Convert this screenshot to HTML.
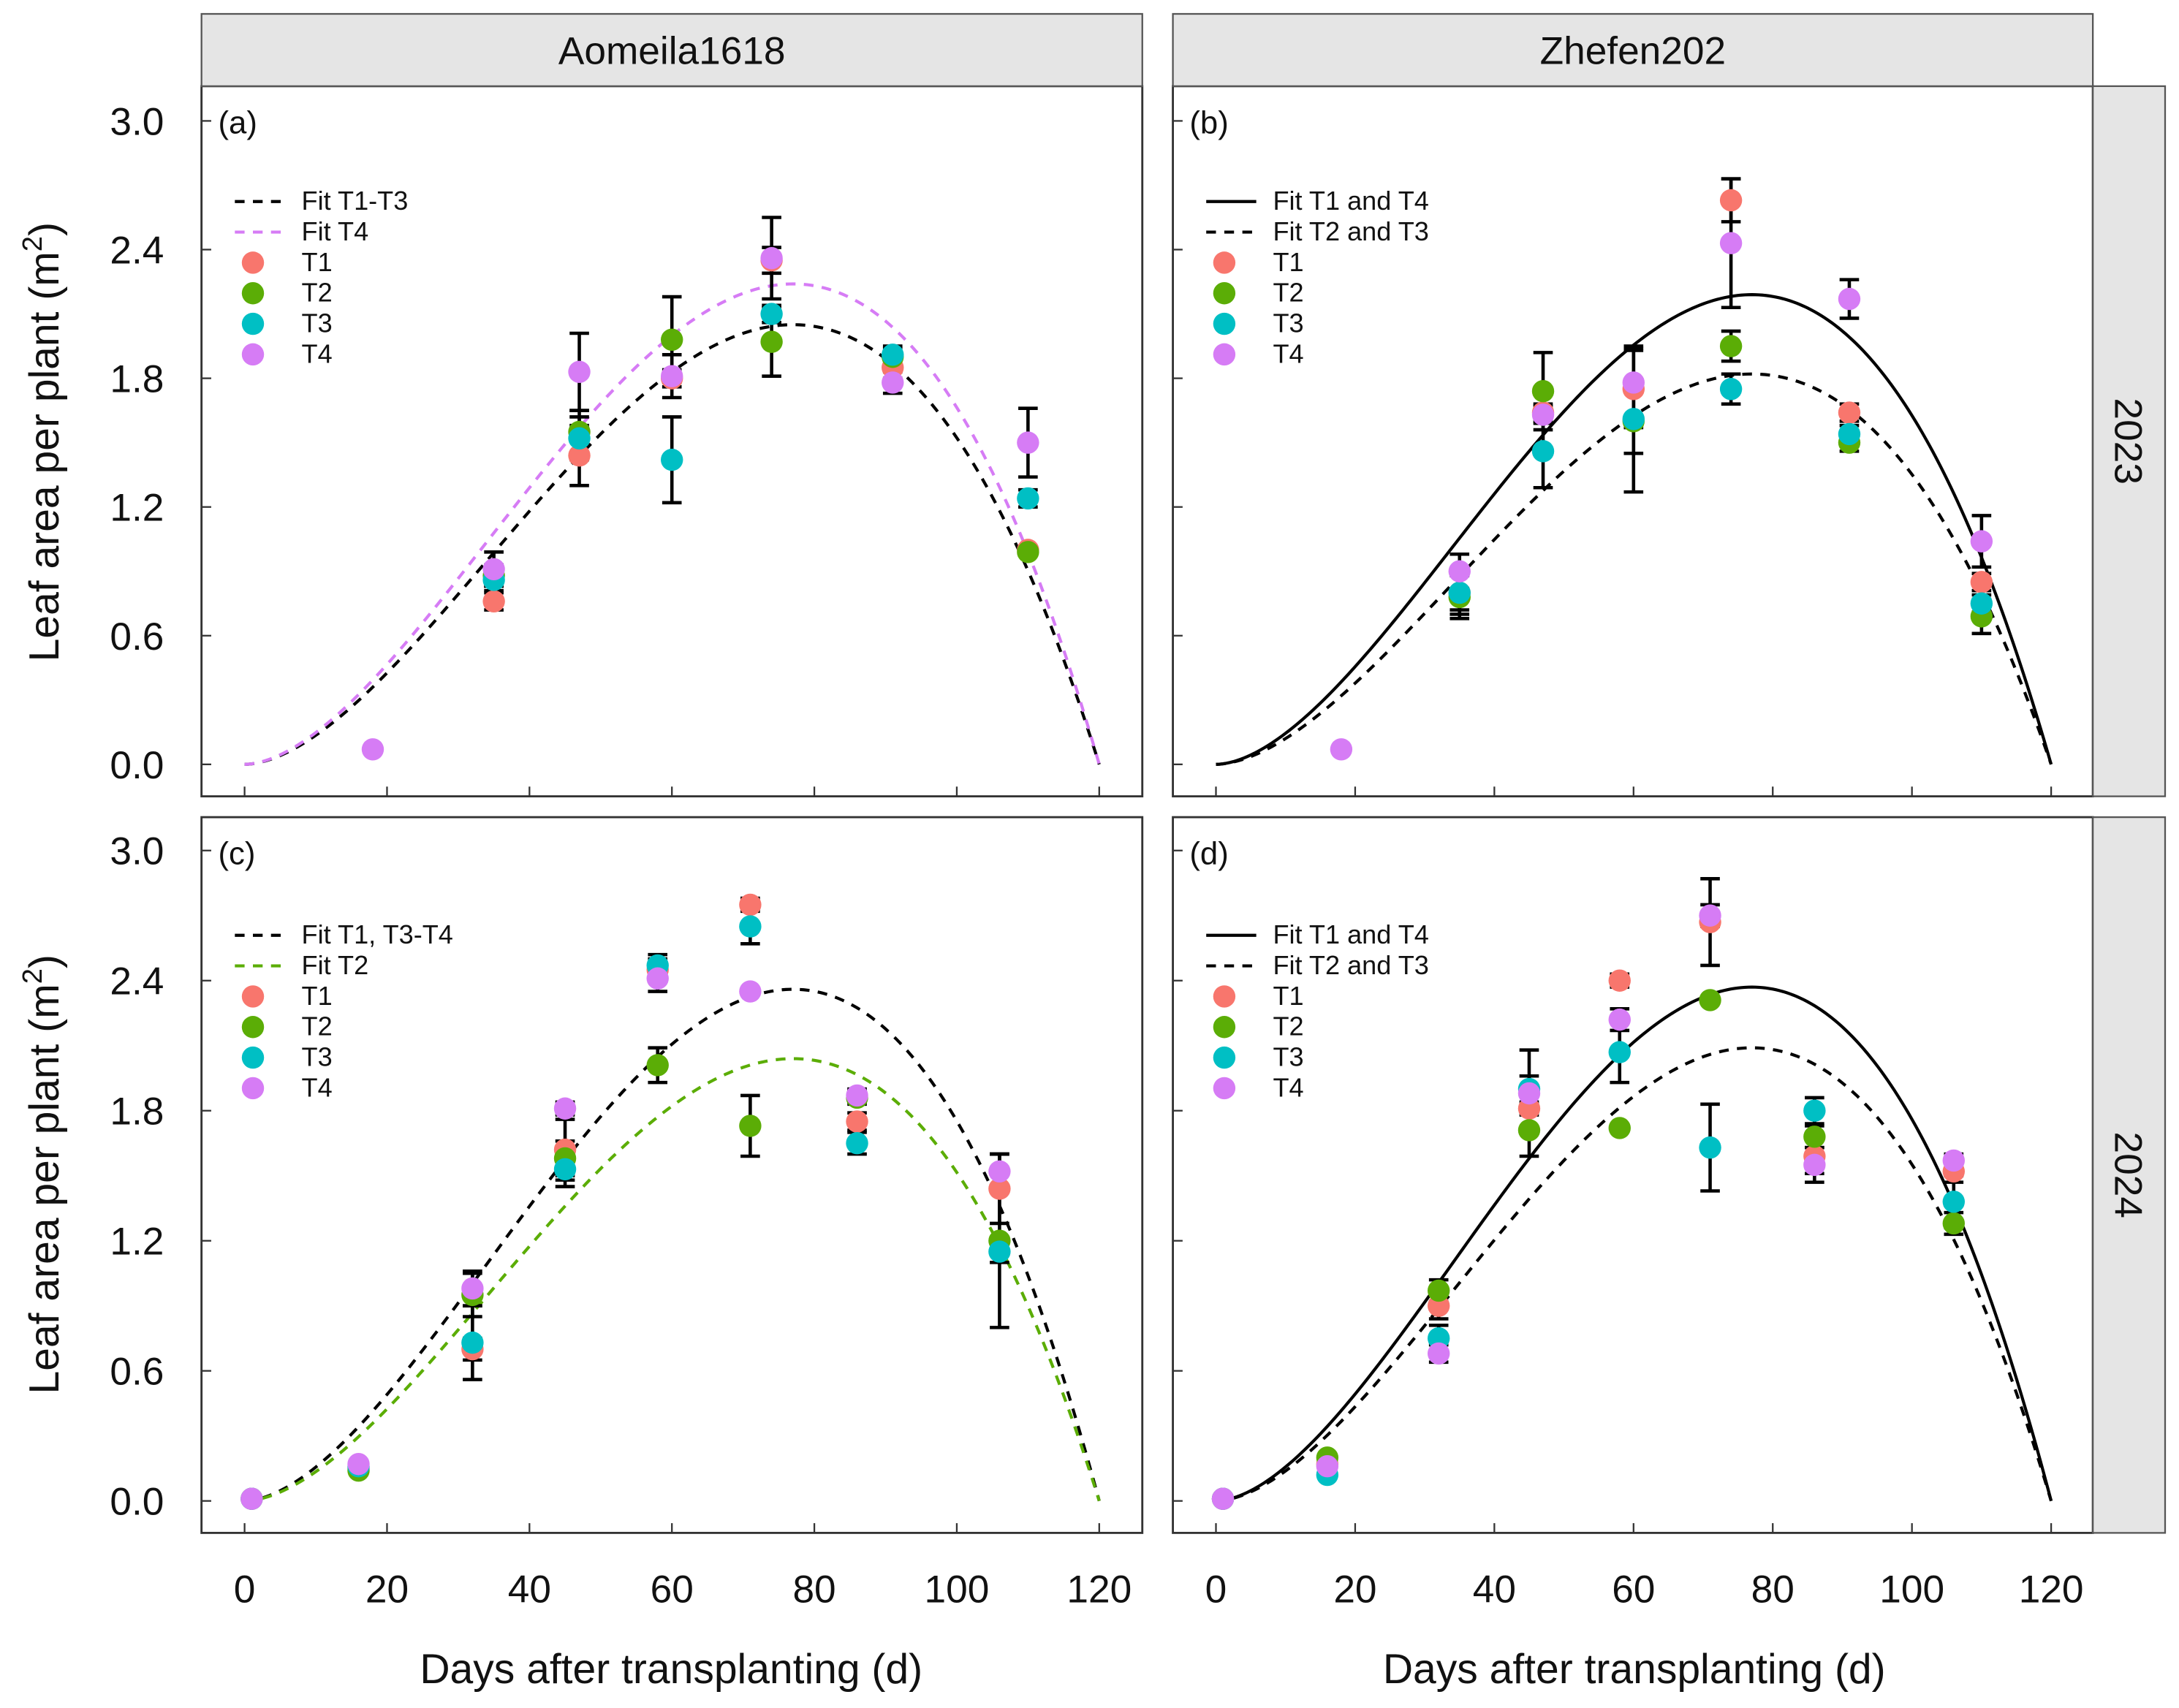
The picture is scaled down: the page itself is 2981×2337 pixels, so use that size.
<!DOCTYPE html>
<html><head><meta charset="utf-8"><style>
html,body{margin:0;padding:0;background:#fff;}
svg{display:block;font-family:"Liberation Sans",Arial,sans-serif;}
</style></head><body>
<svg id="fig" width="2981" height="2337" viewBox="0 0 1568 1229" preserveAspectRatio="none" xmlns="http://www.w3.org/2000/svg">
<rect x="0" y="0" width="1568" height="1229" fill="#fff"/>
<g id="root"></g>
</svg>
<script>
// ---- data ----
const xTicks = [0,20,40,60,80,100,120];
const yTicks = [0.0,0.6,1.2,1.8,2.4,3.0];
const treatments = ["T1","T2","T3","T4"];
const colors = ["#F8766D","#5BAD06","#00BFC4","#D67CF5"];

const daysA = [18,35,47,60,74,91,110];
const aT1 = [null,0.76,1.44,1.80,2.35,1.85,1.00];
const aT2 = [null,0.88,1.55,1.98,1.97,1.90,0.99];
const aT3 = [null,0.86,1.52,1.42,2.10,1.91,1.24];
const aT4 = [0.07,0.91,1.83,1.81,2.36,1.78,1.50];
const aE1 = [0,0.04,0.14,0.04,0.06,0.05,0.02];
const aE2 = [0,0.05,0.10,0.20,0.16,0.04,0.02];
const aE3 = [0,0.05,0.10,0.20,0.04,0.04,0.04];
const aE4 = [0,0.08,0.18,0.10,0.19,0.05,0.16];

const daysB = [18,35,47,60,74,91,110];
const bT1 = [null,0.80,1.64,1.75,2.63,1.64,0.85];
const bT2 = [null,0.78,1.74,1.60,1.95,1.50,0.69];
const bT3 = [null,0.80,1.46,1.61,1.75,1.54,0.75];
const bT4 = [0.07,0.90,1.63,1.78,2.43,2.17,1.04];
const bE1 = [0,0.08,0.04,0.18,0.10,0.04,0.04];
const bE2 = [0,0.10,0.18,0.15,0.07,0.04,0.08];
const bE3 = [0,0.10,0.17,0.34,0.07,0.04,0.04];
const bE4 = [0,0.08,0.04,0.16,0.30,0.09,0.12];

const daysC = [1,16,32,45,58,71,86,106];
const cT1 = [0.01,0.15,0.70,1.62,2.45,2.75,1.75,1.44];
const cT2 = [0.01,0.14,0.95,1.58,2.01,1.73,1.86,1.20];
const cT3 = [0.01,0.16,0.73,1.53,2.47,2.65,1.65,1.15];
const cT4 = [0.01,0.17,0.98,1.81,2.41,2.35,1.87,1.52];
const cE1 = [0,0.02,0.05,0.14,0.05,0.03,0.04,0.16];
const cE2 = [0,0.02,0.10,0.08,0.08,0.14,0.03,0.40];
const cE3 = [0,0.02,0.17,0.08,0.05,0.08,0.05,0.05];
const cE4 = [0,0.02,0.08,0.03,0.06,0.02,0.03,0.08];

const daysD = [1,16,32,45,58,71,86,106];
const dT1 = [0.01,0.17,0.90,1.81,2.40,2.67,1.59,1.52];
const dT2 = [0.01,0.20,0.97,1.71,1.72,2.31,1.68,1.28];
const dT3 = [0.01,0.12,0.75,1.90,2.07,1.63,1.80,1.38];
const dT4 = [0.01,0.16,0.68,1.88,2.22,2.70,1.55,1.57];
const dE1 = [0,0.02,0.06,0.03,0.03,0.20,0.08,0.05];
const dE2 = [0,0.02,0.05,0.12,0.02,0.02,0.05,0.05];
const dE3 = [0,0.02,0.06,0.18,0.14,0.20,0.06,0.12];
const dE4 = [0,0.02,0.04,0.08,0.05,0.05,0.08,0.03];

// fit parameters (ymax) for beta curves, te=120, tm=77
const fitA = [2.05,2.24];
const fitB = [2.19,1.82];
const fitC = [2.36,2.04];
const fitD = [2.37,2.09];

// ---- drawing ----
const NS="http://www.w3.org/2000/svg";
const root=document.getElementById('root');
function el(tag,attrs,parent,text){const e=document.createElementNS(NS,tag);for(const k in attrs)e.setAttribute(k,attrs[k]);if(text!==undefined)e.textContent=text;(parent||root).appendChild(e);return e;}
function beta(t,ymax){const te=120,tm=77;if(t<=0)return 0;if(t>=te)return 0;return ymax*((te-t)/(te-tm))*Math.pow(t/tm,tm/(te-tm));}

const panels=[
 {id:"a",L:145,R:822,T:62,B:573,x0:176,x120:791,y0:550,y3:87,days:daysA,vals:[aT1,aT2,aT3,aT4],errs:[aE1,aE2,aE3,aE4],fits:fitA,
  fitStyles:[{c:"#000",d:"7,6"},{c:"#D67CF5",d:"7,6"}],fitNames:["Fit T1-T3","Fit T4"],legY:145,xlabels:false},
 {id:"b",L:844,R:1506,T:62,B:573,x0:875,x120:1476,y0:550,y3:87,days:daysB,vals:[bT1,bT2,bT3,bT4],errs:[bE1,bE2,bE3,bE4],fits:fitB,
  fitStyles:[{c:"#000",d:""},{c:"#000",d:"7,6"}],fitNames:["Fit T1 and T4","Fit T2 and T3"],legY:145,xlabels:false},
 {id:"c",L:145,R:822,T:588,B:1103,x0:176,x120:791,y0:1080,y3:612,days:daysC,vals:[cT1,cT2,cT3,cT4],errs:[cE1,cE2,cE3,cE4],fits:fitC,
  fitStyles:[{c:"#000",d:"7,6"},{c:"#5BAD06",d:"7,6"}],fitNames:["Fit T1, T3-T4","Fit T2"],legY:673,xlabels:true},
 {id:"d",L:844,R:1506,T:588,B:1103,x0:875,x120:1476,y0:1080,y3:612,days:daysD,vals:[dT1,dT2,dT3,dT4],errs:[dE1,dE2,dE3,dE4],fits:fitD,
  fitStyles:[{c:"#000",d:""},{c:"#000",d:"7,6"}],fitNames:["Fit T1 and T4","Fit T2 and T3"],legY:673,xlabels:true}
];

panels.forEach(p=>{
  const sx=t=>p.x0+(p.x120-p.x0)*t/120;
  const sy=v=>p.y0-(p.y0-p.y3)*v/3;
  const g=el('g',{});
  
  
  const frame=el('rect',{x:p.L,y:p.T,width:p.R-p.L,height:p.B-p.T,fill:"#fff",stroke:"#333","stroke-width":1.5},g);
  
  
  xTicks.forEach(t=>{
    const tk=el('line',{x1:sx(t),x2:sx(t),y1:p.B,y2:p.B-7,stroke:"#333","stroke-width":1.2},g);
    
    
    if(p.xlabels){
      const lb=el('text',{x:sx(t),y:p.B+50,"text-anchor":"middle","font-size":28,fill:"#111"},g,String(t));
      
      
    }
  });
  yTicks.forEach(v=>{
    const tk=el('line',{x1:p.L,x2:p.L+7,y1:sy(v),y2:sy(v),stroke:"#333","stroke-width":1.2},g);
    
    
    if(p.id==="a"||p.id==="c"){
      const lb=el('text',{x:118,y:sy(v)+10,"text-anchor":"end","font-size":28,fill:"#111"},g,v.toFixed(1));
      
      
    }
  });
  const pl=el('text',{x:p.L+12,y:p.T+34,"font-size":23,fill:"#111"},g,"("+p.id+")");
  
  
  p.fits.forEach((ym,i)=>{
    let d="";
    for(let t=0;t<=120;t+=0.5){d+=(t===0?"M":"L")+sx(t).toFixed(2)+","+sy(beta(t,ym)).toFixed(2);}
    const path=el('path',{d:d,fill:"none",stroke:p.fitStyles[i].c,"stroke-width":2.2,"stroke-dasharray":p.fitStyles[i].d},g);
    
    
  });
  p.vals.forEach((arr,k)=>{
    arr.forEach((v,j)=>{
      const e=p.errs[k][j];
      if(v===null||!e||e<0.025)return;
      const x=sx(p.days[j]);
      const eb=el('path',{d:`M${x},${sy(v-e)}L${x},${sy(v+e)}M${x-7},${sy(v-e)}L${x+7},${sy(v-e)}M${x-7},${sy(v+e)}L${x+7},${sy(v+e)}`,stroke:"#000","stroke-width":2.4,fill:"none"},g);
      
      
    });
  });
  p.vals.forEach((arr,k)=>{
    arr.forEach((v,j)=>{
      if(v===null)return;
      const c=el('circle',{cx:sx(p.days[j]),cy:sy(v),r:8,fill:colors[k]},g);
      
      
    });
  });
  const lg=el('g',{},g);
  
  
  p.fitNames.forEach((n,i)=>{
    const y=p.legY+22*i;
    const ln=el('line',{x1:p.L+24,x2:p.L+60,y1:y,y2:y,stroke:p.fitStyles[i].c,"stroke-width":2.2,"stroke-dasharray":p.fitStyles[i].d},lg);
    
    
    const tx=el('text',{x:p.L+72,y:y+6,"font-size":19,fill:"#111"},lg,n);
    
    
  });
  treatments.forEach((n,i)=>{
    const y=p.legY+44+22*i;
    const c=el('circle',{cx:p.L+37,cy:y,r:8,fill:colors[i]},lg);
    
    
    const tx=el('text',{x:p.L+72,y:y+6,"font-size":19,fill:"#111"},lg,n);
    
    
  });
});

const strips=[
 {x:145,y:10,w:677,h:52,t:"Aomeila1618",rot:false,n:"strip-aomeila1618"},
 {x:844,y:10,w:662,h:52,t:"Zhefen202",rot:false,n:"strip-zhefen202"},
 {x:1506,y:62,w:52,h:511,t:"2023",rot:true,n:"strip-2023"},
 {x:1506,y:588,w:52,h:515,t:"2024",rot:true,n:"strip-2024"}
];
strips.forEach(s=>{
  const r=el('rect',{x:s.x,y:s.y,width:s.w,height:s.h,fill:"#E5E5E5",stroke:"#555","stroke-width":1.2});
  
  
  const cx=s.x+s.w/2,cy=s.y+s.h/2;
  const t=el('text',{x:cx,y:cy+10,"text-anchor":"middle","font-size":28,fill:"#111",transform:s.rot?`rotate(90 ${cx} ${cy})`:""},root,s.t);
  
  
});

[483,1176].forEach(x=>{
  const t=el('text',{x:x,y:1211,"text-anchor":"middle","font-size":30,fill:"#111"},root,"Days after transplanting (d)");
  
  
});
[318,845].forEach(cy=>{
  const t=el('text',{x:42,y:cy,"text-anchor":"middle","font-size":30,fill:"#111",transform:`rotate(-90 42 ${cy})`},root);
  
  
  t.appendChild(document.createTextNode("Leaf area per plant (m"));
  el('tspan',{"font-size":20,dy:-12},t,"2");
  el('tspan',{dy:12},t,")");
});
</script>
</body></html>
